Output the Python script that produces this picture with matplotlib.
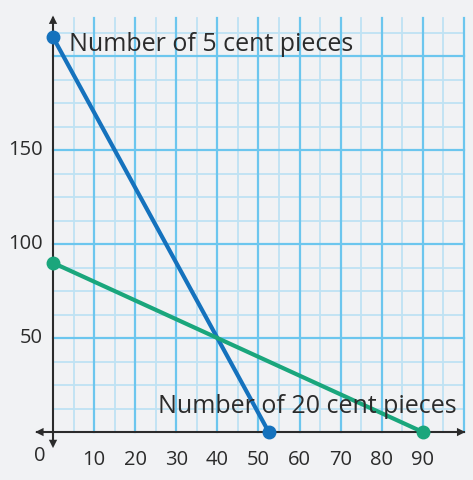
import matplotlib.pyplot as plt
import numpy as np

# data
x_five = [0, 52.5]
y_five = [210, 0]
x_twenty = [0, 90]
y_twenty = [90, 0]
x_ticks = [10, 20, 30, 40, 50, 60, 70, 80, 90]
y_ticks = [50, 100, 150]
label_five = 'Number of 5 cent pieces'
label_twenty = 'Number of 20 cent pieces'

blue = '#1572bd'
green = '#1aa67c'
ink = '#2b2b2b'
bg = '#f1f2f4'

plt.rcParams['font.family'] = ['Open Sans', 'DejaVu Sans']

fig = plt.figure(figsize=(4.73, 4.80), dpi=100)
fig.patch.set_facecolor(bg)
ax = fig.add_axes([0, 0, 1, 1])
ax.set_facecolor(bg)
ax.set_xlim(-12.9, 102.2)
ax.set_ylim(-25.5, 229.8)
ax.axis('off')

# grid paper
xmax, ymax = 100, 220
for gx in np.arange(5, 100, 10):
    ax.plot([gx, gx], [0, ymax], color='#bfe2f3', lw=1.3, zorder=1)
for gy in np.arange(12.5, 220, 12.5):
    if gy % 50:
        ax.plot([0, xmax], [gy, gy], color='#bfe2f3', lw=1.3, zorder=1)
for gx in np.arange(10, 101, 10):
    ax.plot([gx, gx], [0, ymax], color='#6cc6ee', lw=1.6, zorder=2)
for gy in [50, 100, 150, 200]:
    ax.plot([0, xmax], [gy, gy], color='#6cc6ee', lw=1.6, zorder=2)

# axes with arrows
ax.plot([-4, 100], [0, 0], color=ink, lw=1.5, zorder=3)
ax.plot([0, 0], [-7, ymax], color=ink, lw=1.5, zorder=3)
arrow = dict(arrowstyle='-|>,head_length=0.6,head_width=0.3', color=ink, lw=0)
ax.annotate('', xy=(101, 0), xytext=(97, 0), arrowprops=arrow, zorder=3)
ax.annotate('', xy=(-5, 0), xytext=(-1, 0), arrowprops=arrow, zorder=3)
ax.annotate('', xy=(0, 223), xytext=(0, 215), arrowprops=arrow, zorder=3)
ax.annotate('', xy=(0, -10), xytext=(0, -2), arrowprops=arrow, zorder=3)

# lines
ax.plot(x_five, y_five, color=blue, lw=3, marker='o', ms=9, zorder=4)
ax.plot(x_twenty, y_twenty, color=green, lw=3, marker='o', ms=9, zorder=4)

# tick labels
for t in x_ticks:
    ax.text(t, -15, str(t), ha='center', va='center', fontsize=14.5, color=ink)
for t in y_ticks:
    ax.text(-2.6, t, str(t), ha='right', va='center', fontsize=14.5, color=ink)
ax.text(-3.2, -12.5, '0', ha='center', va='center', fontsize=14.5, color=ink)

# line labels
ax.text(4, 206, label_five, ha='left', va='center', fontsize=18, color=ink, zorder=5)
ax.text(98.2, 13.5, label_twenty, ha='right', va='center', fontsize=18, color=ink, zorder=5)

fig.savefig('out.png', dpi=100, facecolor=bg)
